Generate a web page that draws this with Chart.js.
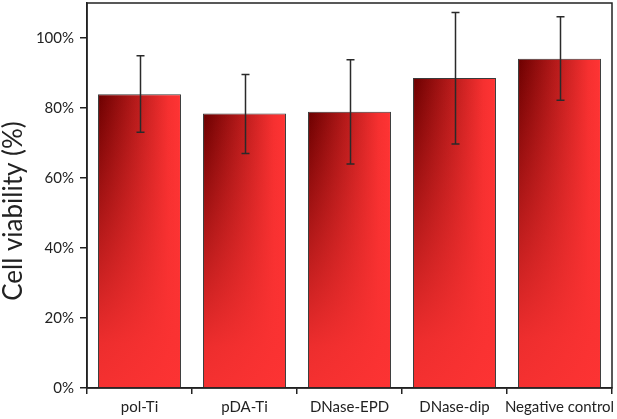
<!DOCTYPE html>
<html>
<head>
<meta charset="utf-8">
<script src="https://cdn.jsdelivr.net/npm/chart.js@4"></script>
<style>
  html, body { margin: 0; padding: 0; background: #fff; }
  #wrap { width: 617px; height: 419px; }
</style>
</head>
<body>
<div id="wrap"><canvas id="c" width="617" height="419"></canvas></div>
<script>
// valores
const categories = ['pol-Ti', 'pDA-Ti', 'DNase-EPD', 'DNase-dip', 'Negative control'];
const viability = [83.9, 78.4, 78.9, 88.6, 94.1];
const errHigh = [94.9, 89.6, 93.8, 107.3, 106.1];
const errLow = [73.1, 67.0, 64.0, 69.7, 82.2];
const yTicks = [0, 20, 40, 60, 80, 100];
const yTitle = 'Cell viability (%)';

const INK = '#222';
const FONT = 'Lato, "Open Sans", sans-serif';
const BAR_PCT = 0.79;

// gradiente horizontal: escuro à esquerda, vermelho vivo à direita
function barGradient(ctx) {
  const chart = ctx.chart;
  const xs = chart.scales.x;
  if (!xs || ctx.dataIndex == null) return '#ff3030';
  const step = xs.getPixelForValue(1) - xs.getPixelForValue(0);
  const w = step * BAR_PCT;
  if (!isFinite(w) || w <= 0) return '#ff3030';
  const left = xs.getPixelForValue(ctx.dataIndex) - w / 2;
  const g = chart.ctx.createLinearGradient(left, 0, left + w, 0);
  g.addColorStop(0, '#6c0000');
  g.addColorStop(0.45, '#b41a1a');
  g.addColorStop(0.85, '#f63030');
  g.addColorStop(1, '#ff3434');
  return g;
}

// sombreado: o escuro some em direção à base da barra
function fadeBars(chart) {
  const ctx = chart.ctx;
  chart.getDatasetMeta(0).data.forEach(bar => {
    const p = bar.getProps(['x', 'y', 'base', 'width'], true);
    const l = p.x - p.width / 2 + 1, r = p.x + p.width / 2 - 1;
    const t = p.y + 1, b = p.base;
    const g = ctx.createLinearGradient(0, t, 0, b);
    g.addColorStop(0, 'rgba(250,50,50,0)');
    g.addColorStop(0.85, 'rgba(250,50,50,0.9)');
    g.addColorStop(1, 'rgba(252,51,51,0.95)');
    ctx.fillStyle = g;
    ctx.fillRect(l, t, r - l, b - t);
  });
}

// barras de erro, moldura e título do eixo y
const extras = {
  id: 'extras',
  afterDatasetsDraw(chart) {
    const ctx = chart.ctx;
    const y = chart.scales.y;
    const meta = chart.getDatasetMeta(0);
    ctx.save();
    fadeBars(chart);
    ctx.strokeStyle = '#2a2a2a';
    ctx.lineWidth = 1.5;
    meta.data.forEach((bar, i) => {
      const x = Math.round(bar.x) + 0.5;
      const yh = y.getPixelForValue(errHigh[i]);
      const yl = y.getPixelForValue(errLow[i]);
      ctx.beginPath();
      ctx.moveTo(x, yh); ctx.lineTo(x, yl);
      ctx.moveTo(x - 4, yh); ctx.lineTo(x + 4, yh);
      ctx.moveTo(x - 4, yl); ctx.lineTo(x + 4, yl);
      ctx.stroke();
    });
    const a = chart.chartArea;
    ctx.strokeStyle = INK;
    ctx.lineWidth = 1.5;
    ctx.strokeRect(a.left, a.top, a.right - a.left, a.bottom - a.top);
    // título rotacionado (um pouco abaixo do centro, como no original)
    ctx.translate(14, y.getPixelForValue(50) - 2);
    ctx.rotate(-Math.PI / 2);
    ctx.fillStyle = INK;
    ctx.font = '26px ' + FONT;
    ctx.textAlign = 'center';
    ctx.textBaseline = 'middle';
    ctx.fillText(yTitle, 0, 0);
    ctx.restore();
  }
};

new Chart(document.getElementById('c'), {
  type: 'bar',
  data: {
    labels: categories,
    datasets: [{
      data: viability,
      backgroundColor: barGradient,
      borderColor: '#3a3a3a',
      borderWidth: 1,
      categoryPercentage: 1,
      barPercentage: BAR_PCT
    }]
  },
  options: {
    responsive: false,
    animation: false,
    layout: { padding: { top: 3, right: 5, left: 0, bottom: 0 } },
    plugins: { legend: { display: false }, tooltip: { enabled: false } },
    scales: {
      x: {
        grid: { display: true, drawOnChartArea: false, drawTicks: true, tickLength: 6, color: INK, lineWidth: 1.5 },
        border: { color: INK, width: 1.5 },
        ticks: { color: INK, font: { family: FONT, size: 15 }, padding: 4, maxRotation: 0, autoSkip: false },
        afterFit(s) { s.height = 31; s.paddingLeft = 0; s.paddingRight = 0; }
      },
      y: {
        min: 0,
        max: 110,
        afterBuildTicks(s) { s.ticks = yTicks.map(v => ({ value: v })); },
        grid: { display: true, drawOnChartArea: false, drawTicks: true, tickLength: 7, color: INK, lineWidth: 1.5 },
        border: { color: INK, width: 1.5 },
        ticks: { color: INK, font: { family: FONT, size: 15 }, padding: 6, callback: v => v + '%' },
        afterFit(s) { s.width = 87; s.paddingTop = 0; s.paddingBottom = 0; }
      }
    }
  },
  plugins: [extras]
});
</script>
</body>
</html>
